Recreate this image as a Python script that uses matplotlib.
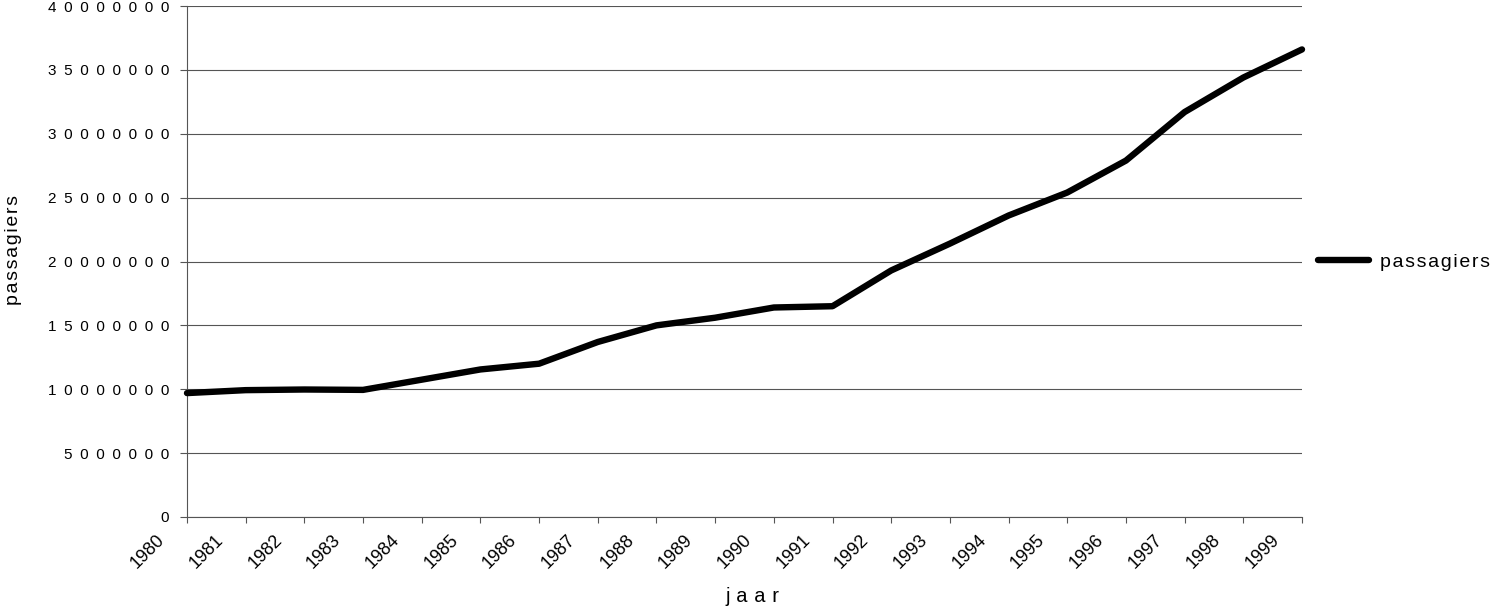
import matplotlib.pyplot as plt
import matplotlib.transforms as mtransforms

plt.rcParams['font.family'] = ['Liberation Sans', 'DejaVu Sans']

# Data
years = list(range(1980, 2000))
passagiers = [9.7e6, 9.93e6, 9.98e6, 9.95e6, 10.75e6, 11.55e6, 12.0e6,
              13.7e6, 15.0e6, 15.6e6, 16.4e6, 16.5e6, 19.3e6, 21.4e6,
              23.6e6, 25.4e6, 27.9e6, 31.7e6, 34.4e6, 36.6e6]
yticks = list(range(0, 40000001, 5000000))

fig = plt.figure(figsize=(14.95, 6.08), dpi=100)
ax = fig.add_axes([187 / 1495, 91 / 608, 1115 / 1495, 511 / 608])

ax.plot(years, passagiers, color='black', lw=4.6, solid_capstyle='round',
        solid_joinstyle='round', clip_on=False, zorder=3, label='passagiers')

ax.set_xlim(1980, 1999)
ax.set_ylim(0, 40000000)
ax.set_xticks(years)
ax.set_xticklabels([str(y) for y in years], rotation=45, ha='right',
                   va='top', fontsize=13)
ax.set_yticks(yticks)
ax.set_yticklabels(['\u2002'.join(str(v)) for v in yticks], fontsize=11)

gray = '#555555'
ax.yaxis.grid(True, color=gray, lw=0.8)
ax.set_axisbelow(True)
for s in ['top', 'right']:
    ax.spines[s].set_visible(False)
for s in ['left', 'bottom']:
    ax.spines[s].set_color(gray)
    ax.spines[s].set_linewidth(0.8)
ax.tick_params(axis='y', length=5, width=0.8, color=gray, pad=8)
ax.tick_params(axis='x', length=4.5, width=0.8, color=gray, pad=6)

# shift the rotated year labels left, as in the reference
offset = mtransforms.ScaledTranslation(-0.19, 0, fig.dpi_scale_trans)
for lab in ax.get_xticklabels():
    lab.set_transform(lab.get_transform() + offset)

ax.set_xlabel('j\u2004a\u2004a\u2004r', fontsize=14.5)
ax.xaxis.set_label_coords((752 - 187) / 1115, (517 - 587) / 511)
ax.set_ylabel('\u200a'.join('passagiers'), fontsize=14)
ax.yaxis.set_label_coords((22 - 187) / 1115, (517 - 250) / 511)

leg = fig.legend(loc='center left', bbox_to_anchor=(1318 / 1495, 1 - 262 / 608),
                 frameon=False, fontsize=14, handlelength=2.6,
                 handletextpad=0.6, borderpad=0, borderaxespad=0)
for t in leg.get_texts():
    t.set_text('\u200a'.join('passagiers'))

fig.savefig('out.png', dpi=100)
